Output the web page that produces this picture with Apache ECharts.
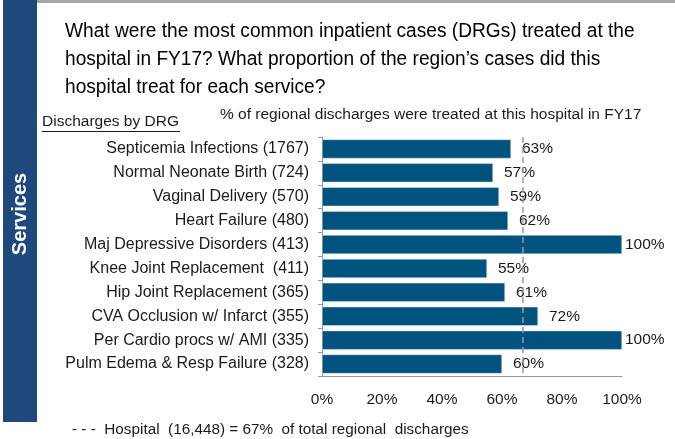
<!DOCTYPE html>
<html>
<head>
<meta charset="utf-8">
<script src="https://cdn.jsdelivr.net/npm/echarts@6/dist/echarts.min.js"></script>
<style>
  html, body { margin: 0; padding: 0; background: #fff; }
  #chart { width: 675px; height: 439px; }
</style>
</head>
<body>
<div id="chart"></div>
<script>
var categories = [
    'Septicemia Infections (1767)',
    'Normal Neonate Birth (724)',
    'Vaginal Delivery (570)',
    'Heart Failure (480)',
    'Maj Depressive Disorders (413)',
    'Knee Joint Replacement  (411)',
    'Hip Joint Replacement (365)',
    'CVA Occlusion w/ Infarct (355)',
    'Per Cardio procs w/ AMI (335)',
    'Pulm Edema & Resp Failure (328)'
];
var shares = [63, 57, 59, 62, 100, 55, 61, 72, 100, 60];
var hospitalShare = 67;
var xTicks = [0, 20, 40, 60, 80, 100];

var font = '"Liberation Sans", Arial, sans-serif';
var myChart = echarts.init(document.getElementById('chart'));

var option = {
    animation: false,
    textStyle: { fontFamily: font },
    graphic: [
        // 左侧蓝条 + 顶部灰线
        { type: 'rect', shape: { x: 3, y: 0, width: 34, height: 422 }, style: { fill: '#1f497d' } },
        { type: 'rect', shape: { x: 37, y: 0, width: 638, height: 3 }, style: { fill: '#a6a6a6' } },
        {
            type: 'text', x: 20, y: 214, rotation: Math.PI / 2,
            style: { text: 'Services', font: 'bold 20px ' + font, fill: '#fff', textAlign: 'center', textVerticalAlign: 'middle' }
        },
        {
            type: 'text', x: 65, y: 17, scaleX: 0.956,
            style: {
                text: 'What were the most common inpatient cases (DRGs) treated at the\nhospital in FY17? What proportion of the region\u2019s cases did this\nhospital treat for each service?',
                font: '20px ' + font, fill: '#000', lineHeight: 28
            }
        },
        {
            type: 'text', x: 42, y: 122,
            style: { text: 'Discharges by DRG', font: '15.5px ' + font, fill: '#1a1a1a', textVerticalAlign: 'middle' }
        },
        { type: 'line', shape: { x1: 42, y1: 131.5, x2: 180, y2: 131.5 }, style: { stroke: '#1a1a1a', lineWidth: 1 } },
        {
            type: 'text', x: 220, y: 115,
            style: { text: '% of regional discharges were treated at this hospital in FY17', font: '15.5px ' + font, fill: '#1a1a1a', textVerticalAlign: 'middle' }
        },
        {
            type: 'text', x: 72, y: 430,
            style: { text: '- - -  Hospital  (16,448) = 67%  of total regional  discharges', font: '15.3px ' + font, fill: '#1a1a1a', textVerticalAlign: 'middle' }
        }
    ],
    grid: { left: 322, right: 53, top: 137, bottom: 63 },
    xAxis: {
        type: 'value',
        min: xTicks[0],
        max: xTicks[xTicks.length - 1],
        interval: xTicks[1] - xTicks[0],
        splitLine: { show: false },
        axisLine: { show: true, lineStyle: { color: '#999' } },
        axisTick: { show: false },
        axisLabel: { formatter: '{value}%', fontSize: 15.5, color: '#1a1a1a', margin: 16 }
    },
    yAxis: {
        type: 'category',
        inverse: true,
        data: categories,
        axisLine: { show: true, lineStyle: { color: '#999' } },
        axisTick: { show: true, length: 4, lineStyle: { color: '#999' } },
        axisLabel: { fontSize: 16, color: '#1a1a1a', margin: 13 }
    },
    series: [{
        type: 'bar',
        barWidth: 19,
        data: shares.map(function (v) {
            return { value: v, label: { distance: v >= 100 ? 3 : 11 } };
        }),
        itemStyle: { color: '#00527f', borderColor: '#dfe8ef', borderWidth: 0.5 },
        label: {
            show: true, position: 'right', formatter: '{c}%',
            fontSize: 15.5, color: '#1a1a1a'
        },
        markLine: {
            silent: true,
            symbol: 'none',
            label: { show: false },
            lineStyle: { color: '#9a9a9a', type: [6, 4], width: 1.5 },
            data: [{ xAxis: hospitalShare }]
        }
    }]
};
myChart.setOption(option);
</script>
</body>
</html>
